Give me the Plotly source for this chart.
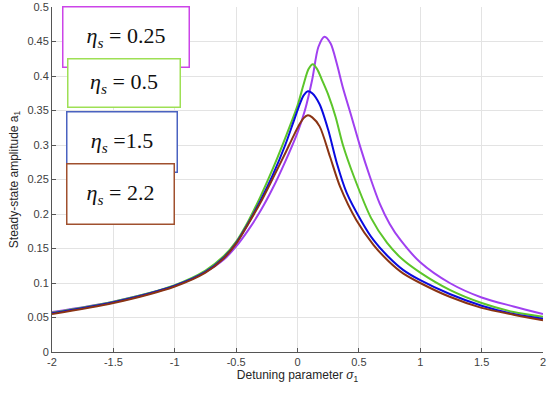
import plotly.graph_objects as go

# ---- data ----
x_eta025 = [-2, -1.5, -1, -0.75, -0.6, -0.5, -0.4, -0.3, -0.2, -0.1, 0, 0.06, 0.12, 0.17, 0.22, 0.27, 0.32, 0.37, 0.44, 0.51, 0.59, 0.67, 0.75, 0.84, 1.0, 1.24, 1.5, 1.76, 2.0]
y_eta025 = [0.058, 0.073, 0.096, 0.116, 0.134, 0.153, 0.177, 0.205, 0.238, 0.276, 0.318, 0.350, 0.395, 0.442, 0.457, 0.447, 0.418, 0.383, 0.341, 0.298, 0.254, 0.215, 0.186, 0.162, 0.130, 0.100, 0.079, 0.066, 0.055]

x_eta05 = [-2, -1.5, -1, -0.75, -0.6, -0.5, -0.4, -0.3, -0.2, -0.1, 0, 0.05, 0.09, 0.125, 0.16, 0.2, 0.25, 0.31, 0.37, 0.46, 0.6, 0.73, 0.85, 1.0, 1.24, 1.5, 1.76, 2.0]
y_eta05 = [0.057, 0.073, 0.097, 0.118, 0.139, 0.160, 0.190, 0.226, 0.266, 0.310, 0.357, 0.388, 0.410, 0.417, 0.410, 0.394, 0.373, 0.341, 0.300, 0.254, 0.194, 0.158, 0.135, 0.115, 0.090, 0.071, 0.058, 0.051]

x_eta15 = [-2, -1.5, -1, -0.75, -0.6, -0.5, -0.4, -0.3, -0.2, -0.1, -0.03, 0.02, 0.05, 0.085, 0.12, 0.18, 0.25, 0.32, 0.4, 0.52, 0.62, 0.74, 0.86, 1.0, 1.24, 1.5, 1.76, 2.0]
y_eta15 = [0.056, 0.072, 0.096, 0.116, 0.137, 0.158, 0.187, 0.220, 0.257, 0.300, 0.335, 0.360, 0.372, 0.378, 0.375, 0.359, 0.322, 0.274, 0.231, 0.190, 0.162, 0.138, 0.119, 0.104, 0.084, 0.067, 0.055, 0.048]

x_eta22 = [-2, -1.5, -1, -0.75, -0.6, -0.5, -0.4, -0.3, -0.2, -0.1, -0.03, 0.02, 0.05, 0.085, 0.12, 0.18, 0.265, 0.346, 0.48, 0.62, 0.74, 0.86, 1.0, 1.24, 1.5, 1.76, 2.0]
y_eta22 = [0.055, 0.071, 0.095, 0.115, 0.136, 0.157, 0.186, 0.217, 0.252, 0.288, 0.314, 0.331, 0.339, 0.343, 0.340, 0.327, 0.283, 0.240, 0.191, 0.155, 0.132, 0.114, 0.100, 0.080, 0.064, 0.054, 0.046]

x_tickvals = [-2, -1.5, -1, -0.5, 0, 0.5, 1, 1.5, 2]
x_ticktext = ["-2", "-1.5", "-1", "-0.5", "0", "0.5", "1", "1.5", "2"]
y_tickvals = [0, 0.05, 0.1, 0.15, 0.2, 0.25, 0.3, 0.35, 0.4, 0.45, 0.5]
y_ticktext = ["0", "0.05", "0.1", "0.15", "0.2", "0.25", "0.3", "0.35", "0.4", "0.45", "0.5"]

legend_labels = ["0.25", "0.5", "1.5", "2.2"]

# ---- figure ----
series = [
    (x_eta025, y_eta025, "#a040f0"),
    (x_eta05, y_eta05, "#5cc52a"),
    (x_eta15, y_eta15, "#0a0ae0"),
    (x_eta22, y_eta22, "#8a3414"),
]

fig = go.Figure()
for (xs, ys, col), lab in zip(series, legend_labels):
    fig.add_trace(go.Scatter(x=xs, y=ys, mode="lines", name=lab,
                             line=dict(color=col, width=2, shape="spline", smoothing=0.8),
                             showlegend=False))

axis_common = dict(showgrid=True, gridcolor="#e3e3e3", gridwidth=1, zeroline=False,
                   showline=True, linecolor="#555555", linewidth=1,
                   ticks="inside", ticklen=4, tickcolor="#555555", mirror=False,
                   automargin=False, ticklabeloverflow="allow",
                   tickfont=dict(family="Liberation Sans, Arial, sans-serif", size=11, color="#404040"))

fig.update_layout(
    width=550, height=395,
    margin=dict(l=52, r=7, t=7, b=43, pad=0),
    paper_bgcolor="white", plot_bgcolor="white",
    xaxis=dict(range=[-2, 2], tickvals=x_tickvals, ticktext=x_ticktext,
               title=dict(text="Detuning parameter <i>σ</i><sub>1</sub>", standoff=2,
                          font=dict(family="Liberation Sans, Arial, sans-serif", size=12, color="#262626")),
               **axis_common),
    yaxis=dict(range=[0, 0.5], tickvals=y_tickvals, ticktext=y_ticktext,
               title=dict(text="Steady-state amplitude a<sub>1</sub>", standoff=6,
                          font=dict(family="Liberation Sans, Arial, sans-serif", size=12, color="#262626")),
               **axis_common),
)

# legend boxes (pixel geometry converted to paper coordinates)
W, H = 491.0, 345.0
boxes = [
    # (cx_px, cy_px, w, h, border colour, text)
    (126, 37, 125, 59, "#cc44e8", "<i>η<sub>s</sub></i> = 0.25"),
    (124, 83, 111, 47, "#9ee055", "<i>η<sub>s</sub></i> = 0.5"),
    (122, 142, 109, 59, "#4a62c0", "<i>η<sub>s</sub></i> =1.5"),
    (120.5, 194, 106, 59, "#a0502e", "<i>η<sub>s</sub></i> = 2.2"),
]
for cx, cy, w, h, bc, txt in boxes:
    fig.add_annotation(xref="paper", yref="paper",
                       x=(cx - 52) / W, y=(352 - cy) / H,
                       xanchor="center", yanchor="middle",
                       text=txt, showarrow=False,
                       width=w, height=h, align="center", valign="middle",
                       bgcolor="white", bordercolor=bc, borderwidth=1.5, borderpad=0,
                       font=dict(family="Liberation Serif, Times New Roman, serif", size=22, color="#111111"))

fig.write_html("out.html",
               config={"displayModeBar": False},
               post_script="document.body.style.margin='0';document.body.style.padding='0';")
